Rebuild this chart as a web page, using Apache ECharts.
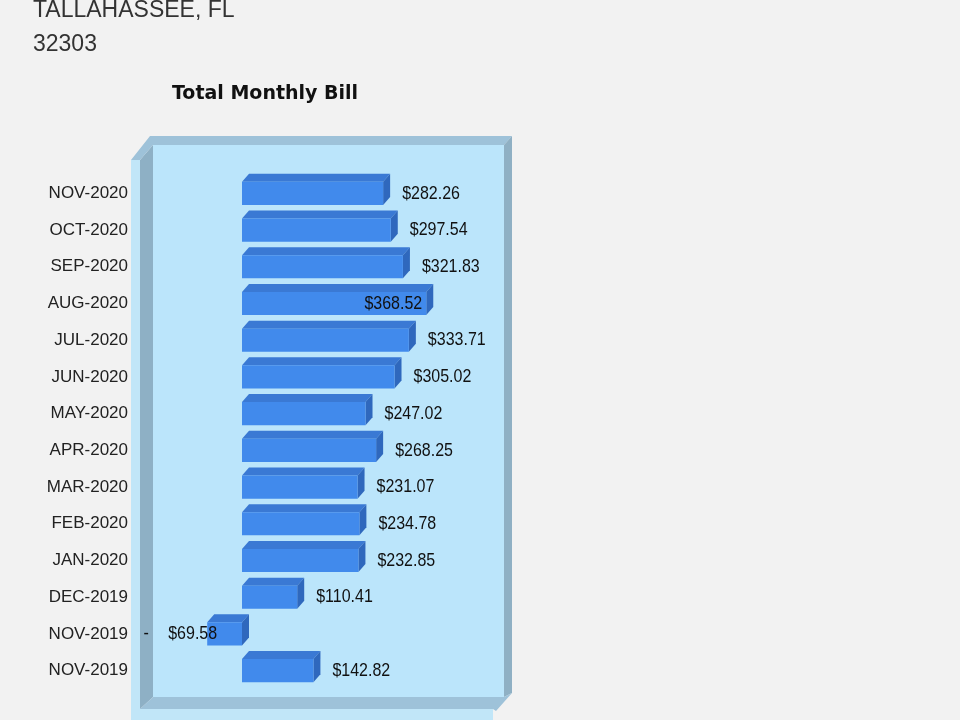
<!DOCTYPE html>
<html>
<head>
    <meta charset="utf-8" />
    <title>Total Monthly Bill</title>
    <script src="https://cdn.jsdelivr.net/npm/echarts@6/dist/echarts.min.js"></script>
    <style>
        html, body { margin: 0; padding: 0; background: #f2f2f2; }
        #divChart { width: 960px; height: 720px; }
    </style>
</head>
<body>
    <div id="divChart"></div>
    <script>
        // months, top to bottom
        let months = ['NOV-2020', 'OCT-2020', 'SEP-2020', 'AUG-2020', 'JUL-2020', 'JUN-2020', 'MAY-2020',
            'APR-2020', 'MAR-2020', 'FEB-2020', 'JAN-2020', 'DEC-2019', 'NOV-2019', 'NOV-2019'];
        let bills = [282.26, 297.54, 321.83, 368.52, 333.71, 305.02, 247.02,
            268.25, 231.07, 234.78, 232.85, 110.41, -69.58, 142.82];

        let labelFont = '16px "Liberation Sans", Arial, sans-serif';

        // label text, a bit taller than wide like the original
        function valueText(str, x, y, align) {
            return {
                type: 'text',
                x: x,
                y: y,
                scaleY: 1.18,
                style: { text: str, x: 0, y: 0, font: labelFont, fill: '#111', align: align, verticalAlign: 'middle' }
            };
        }

        // 3D bar: front face, top face, right side + value label
        function renderBar(params, api) {
            var v = api.value(0);
            var idx = api.value(1);
            var p0 = api.coord([0, idx]);
            var p1 = api.coord([v, idx]);
            var band = api.size([0, 1])[1];
            var h = band * 0.63;
            var x0 = Math.min(p0[0], p1[0]);
            var x1 = Math.max(p0[0], p1[0]);
            var yT = p0[1] - h / 2;
            var yB = p0[1] + h / 2;
            var dx = 7, dy = -8;
            var right = params.coordSys.x + params.coordSys.width;
            var txt = '$' + Math.abs(v).toFixed(2);

            var children = [
                {
                    type: 'polygon',
                    shape: { points: [[x0, yT], [x1, yT], [x1 + dx, yT + dy], [x0 + dx, yT + dy]] },
                    style: { fill: '#3a79d4' }
                },
                {
                    type: 'polygon',
                    shape: { points: [[x1, yT], [x1 + dx, yT + dy], [x1 + dx, yB + dy], [x1, yB]] },
                    style: { fill: '#2f68bd' }
                },
                {
                    type: 'rect',
                    shape: { x: x0, y: yT, width: x1 - x0, height: h },
                    style: { fill: '#418aec' }
                }
            ];

            if (v < 0) {
                children.push(valueText('-', x0 - 61, p0[1], 'center'));
                children.push(valueText(txt, x0 - 39, p0[1], 'left'));
            } else if (x1 + 19 + 60 > right) {
                children.push(valueText(txt, x1 - 4, p0[1], 'right'));
            } else {
                children.push(valueText(txt, x1 + 19, p0[1], 'left'));
            }
            return { type: 'group', children: children };
        }

        function InitChart() {
            var seriesData = bills.map(function (v, i) { return [v, i]; });

            var option = {
                backgroundColor: '#f2f2f2',
                animation: false,
                title: {
                    text: 'Total Monthly Bill',
                    left: 260,
                    top: 80,
                    textAlign: 'center',
                    textStyle: {
                        fontFamily: '"DejaVu Sans", Verdana, sans-serif',
                        fontSize: 19,
                        fontWeight: 'bold',
                        color: '#111'
                    }
                },
                graphic: [
                    {
                        type: 'text', left: 33, top: -1, z: 0,
                        style: { text: 'TALLAHASSEE, FL', font: '23px "Liberation Sans", Arial, sans-serif', fill: '#333' }
                    },
                    {
                        type: 'text', left: 33, top: 33, z: 0,
                        style: { text: '32303', font: '23px "Liberation Sans", Arial, sans-serif', fill: '#333' }
                    },
                    // chart box
                    { type: 'rect', z: 0, shape: { x: 153, y: 145, width: 351, height: 552 }, style: { fill: '#bbe5fb' } },
                    { type: 'rect', z: 0, shape: { x: 131, y: 160, width: 10, height: 560 }, style: { fill: '#c1e6f8' } },
                    { type: 'polygon', z: 0, shape: { points: [[140, 160], [153, 145], [153, 697], [140, 709]] }, style: { fill: '#8eb0c5' } },
                    { type: 'polygon', z: 0, shape: { points: [[131, 160], [150, 136], [512, 136], [504, 145], [153, 145], [140, 160]] }, style: { fill: '#9ec2d9' } },
                    { type: 'polygon', z: 0, shape: { points: [[504, 145], [512, 136], [512, 693], [504, 697]] }, style: { fill: '#8fb0c4' } },
                    { type: 'polygon', z: 0, shape: { points: [[140, 709], [153, 697], [504, 697], [512, 693], [496, 711], [493, 709]] }, style: { fill: '#9ec2d9' } },
                    { type: 'rect', z: 0, shape: { x: 140, y: 709, width: 353, height: 11 }, style: { fill: '#c1e6f8' } }
                ],
                grid: {
                    left: 142,
                    width: 350,
                    top: 175,
                    height: 514
                },
                xAxis: {
                    type: 'value',
                    min: -200,
                    max: 500,
                    show: false,
                    splitLine: { show: false }
                },
                yAxis: {
                    type: 'category',
                    inverse: true,
                    data: months,
                    axisLine: { show: false },
                    axisTick: { show: false },
                    splitLine: { show: false },
                    axisLabel: {
                        margin: 14,
                        fontFamily: '"Liberation Sans", Arial, sans-serif',
                        fontSize: 17,
                        color: '#222'
                    }
                },
                series: [{
                    type: 'custom',
                    z: 2,
                    renderItem: renderBar,
                    encode: { x: 0, y: 1 },
                    data: seriesData
                }]
            };
            echarts.init(document.getElementById('divChart')).setOption(option);
        }

        InitChart();
    </script>
</body>
</html>
